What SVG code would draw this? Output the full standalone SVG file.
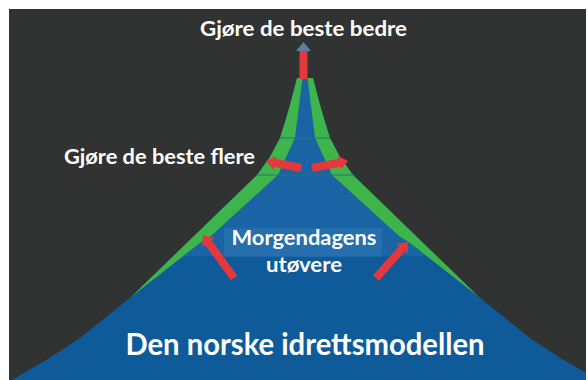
<svg xmlns="http://www.w3.org/2000/svg" width="588" height="380" viewBox="0 0 588 380">
<style>
.t{font-family:Lato,"Open Sans","Liberation Sans",sans-serif;font-weight:700;fill:#ffffff}
.arrow{fill:#e5383d}
.green{fill:#3db54a}
.div{stroke:#2a6f80;stroke-width:1.2;fill:none}
</style>
<defs>
<clipPath id="clip"><rect x="9" y="9" width="577" height="371"/></clipPath>
</defs>
<rect width="588" height="380" fill="#ffffff"/>
<rect x="9" y="9" width="577" height="371" fill="#313332"/>
<g id="pyramid" clip-path="url(#clip)">
<path d="M297,78 L290,105 L285,122 L280,138 L270,157 L257,175 L131,297 L105,318 L80,338 L48,359 L12,380 L598,380 L562,359 L530,338 L505,318 L479,297 L353,175 L340,157 L330,138 L325,122 L320,105 L313,78 Z" fill="#0f5b99"/>
<polygon points="302.5,78 295,138 278,175 211,236 200,243 184,256 426,256 410,243 399,236 332,175 315,138 307.5,78" fill="#1a64a5"/>
<rect x="224" y="228" width="158" height="29" fill="#3a80bb" opacity="0.4"/>
<polygon class="green" points="297,78 290,105 285,122 280,138 270,157 257,175 131,297 200,243 211,236 278,175 295,138 302.5,78"/>
<polygon class="green" points="313,78 320,105 325,122 330,138 340,157 353,175 479,297 410,243 399,236 332,175 315,138 307.5,78"/>
<line class="div" x1="280" y1="138" x2="330" y2="138"/>
<line class="div" x1="256" y1="175" x2="354" y2="175"/>
</g>
<g id="connectors">
<rect class="arrow" x="299.5" y="50" width="8" height="29"/>
<polygon points="296,51 303.5,42 311,51" fill="#5d7fa6"/>
<polygon class="arrow" transform="translate(301,168) rotate(191.3)" points="0,-4 26.7,-4 26.7,-7 35.7,0 26.7,7 26.7,4 0,4"/>
<polygon class="arrow" transform="translate(312,168) rotate(-11)" points="0,-4 27.7,-4 27.7,-7 36.7,0 27.7,7 27.7,4 0,4"/>
<polygon class="arrow" transform="translate(234,278) rotate(-125.8)" points="0,-4 44,-4 44,-7.5 53,0 44,7.5 44,4 0,4"/>
<polygon class="arrow" transform="translate(376,278) rotate(-48.4)" points="0,-4 39.2,-4 39.2,-7.5 48.2,0 39.2,7.5 39.2,4 0,4"/>
</g>
<g id="label-bedre"><text class="t" x="303.5" y="36" font-size="20" text-anchor="middle" textLength="207" lengthAdjust="spacingAndGlyphs">Gjøre de beste bedre</text></g>
<g id="label-flere"><text class="t" x="64" y="164" font-size="20" textLength="191" lengthAdjust="spacingAndGlyphs">Gjøre de beste flere</text></g>
<g id="label-morgendagens"><text class="t" x="304" y="245" font-size="20" text-anchor="middle" textLength="145" lengthAdjust="spacingAndGlyphs">Morgendagens</text>
<text class="t" x="304" y="272" font-size="20" text-anchor="middle" textLength="76" lengthAdjust="spacingAndGlyphs">utøvere</text></g>
<g id="label-modell"><text class="t" x="305" y="355" font-size="31" text-anchor="middle" textLength="359" lengthAdjust="spacingAndGlyphs">Den norske idrettsmodellen</text></g>
</svg>
